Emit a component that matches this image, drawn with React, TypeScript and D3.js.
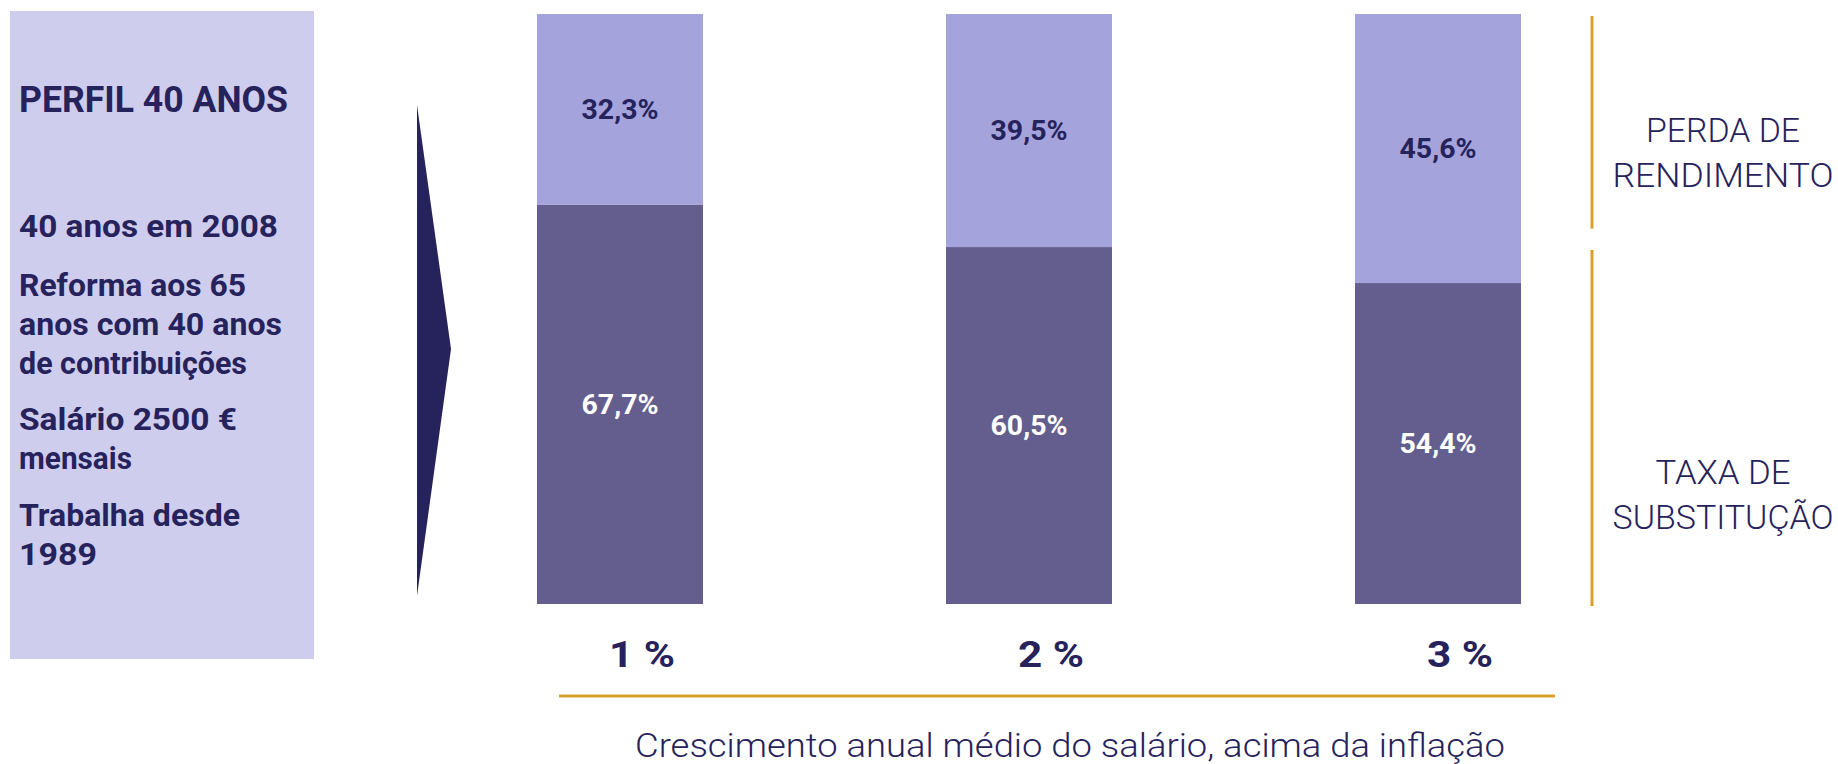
import React from 'react';
import * as d3 from 'd3';

// chart values
const categories = ['1 %', '2 %', '3 %'];
const taxaSubstituicao = [67.7, 60.5, 54.4];
const perdaRendimento = [32.3, 39.5, 45.6];
const seriesKeys = ['taxa', 'perda'];
const seriesLabels = [['TAXA DE', 'SUBSTITUÇÃO'], ['PERDA DE', 'RENDIMENTO']];
const profileTitle = 'PERFIL 40 ANOS';
const profileLines = [
  ['40 anos em 2008'],
  ['Reforma aos 65', 'anos com 40 anos', 'de contribuições'],
  ['Salário 2500 €', 'mensais'],
  ['Trabalha desde', '1989'],
];
const axisTitle = 'Crescimento anual médio do salário, acima da inflação';

const W = 1838;
const H = 764;
const NAVY = '#26225b';
const GOLD = '#d6a22a';
const LIGHT = '#a5a3dc';
const DARK = '#645e8e';
const PANEL = '#cfcdee';

const fmt = (v: number) => v.toFixed(1).replace('.', ',') + '%';

const App = () => {
  const rows = categories.map((c, i) => ({ cat: c, taxa: taxaSubstituicao[i], perda: perdaRendimento[i] }));
  const stacked = d3.stack<any>().keys(seriesKeys)(rows);

  const x = d3.scalePoint<string>().domain(categories).range([620, 1438]);
  const barW = 166;
  const y = d3.scaleLinear().domain([0, 100]).range([604, 14]);

  // profile text baselines
  const paraStarts = [237, 296, 430, 526];
  const lineGap = 39;

  const profileWidths: Record<string, number> = {
    '40 anos em 2008': 259,
    'Reforma aos 65': 227,
    'anos com 40 anos': 263,
    'de contribuições': 228,
    'Salário 2500 €': 218,
    'mensais': 113,
    'Trabalha desde': 221,
    '1989': 78,
  };

  const rightX = 1723;
  const rightLabelWidths: Record<string, number> = {
    'PERDA DE': 154,
    'RENDIMENTO': 221,
    'TAXA DE': 135,
    'SUBSTITUÇÃO': 221,
  };

  return (
    <div style={{ position: 'absolute', left: 0, top: 0 }}>
      <svg width={W} height={H} style={{ display: 'block', background: '#fff' }}>
        {/* left profile panel */}
        <rect x={10} y={11} width={304} height={648} fill={PANEL} />
        <text x={19} y={112} fill={NAVY} fontFamily="Roboto" fontWeight={700} fontSize={37}
          textLength={269} lengthAdjust="spacingAndGlyphs">{profileTitle}</text>
        {profileLines.map((para, pi) =>
          para.map((line, li) => (
            <text key={`${pi}-${li}`} x={19} y={paraStarts[pi] + li * lineGap} fill={NAVY}
              fontFamily="Roboto" fontWeight={700} fontSize={31}
              textLength={profileWidths[line]} lengthAdjust="spacingAndGlyphs">{line}</text>
          ))
        )}

        {/* arrow */}
        <polygon points="417,105 451,349 417,596" fill={NAVY} />

        {/* stacked bars */}
        {stacked.map((s, si) => (
          <g key={s.key} fill={si === 0 ? DARK : LIGHT}>
            {s.map((d, i) => (
              <rect key={i} x={(x(d.data.cat) as number) - barW / 2} y={y(d[1])}
                width={barW} height={y(d[0]) - y(d[1])} />
            ))}
          </g>
        ))}
        {stacked.map((s, si) =>
          s.map((d, i) => (
            <text key={`l${si}-${i}`} x={x(d.data.cat)} y={(y(d[0]) + y(d[1])) / 2} dy="0.35em"
              textAnchor="middle" fill={si === 0 ? '#ffffff' : NAVY}
              fontFamily="Roboto" fontWeight={700} fontSize={27}
              textLength={77} lengthAdjust="spacingAndGlyphs">
              {fmt(si === 0 ? taxaSubstituicao[i] : perdaRendimento[i])}
            </text>
          ))
        )}

        {/* category labels */}
        {categories.map((c) => (
          <text key={c} x={(x(c) as number) + 22} y={667} textAnchor="middle" fill={NAVY}
            fontFamily="Roboto" fontWeight={700} fontSize={37}
            textLength={66} lengthAdjust="spacingAndGlyphs">{c}</text>
        ))}

        {/* axis line + title */}
        <line x1={559} x2={1555} y1={696} y2={696} stroke={GOLD} strokeWidth={3} />
        <text x={1070} y={757} textAnchor="middle" fill={NAVY} fontFamily="Roboto" fontWeight={300}
          fontSize={33} textLength={870} lengthAdjust="spacingAndGlyphs">{axisTitle}</text>

        {/* right-hand legend brackets */}
        <line x1={1592} x2={1592} y1={y(100) + 2} y2={y(100 - perdaRendimento[0]) + 24} stroke={GOLD} strokeWidth={3} />
        <line x1={1592} x2={1592} y1={250} y2={y(0) + 2} stroke={GOLD} strokeWidth={3} />
        {[seriesLabels[1], seriesLabels[0]].map((lbl, gi) =>
          lbl.map((t, li) => (
            <text key={t} x={rightX} y={(gi === 0 ? 142 : 484) + li * 45} textAnchor="middle" fill={NAVY}
              fontFamily="Roboto" fontWeight={300} fontSize={34}
              textLength={rightLabelWidths[t]} lengthAdjust="spacingAndGlyphs">{t}</text>
          ))
        )}
      </svg>
    </div>
  );
};

export default App;
